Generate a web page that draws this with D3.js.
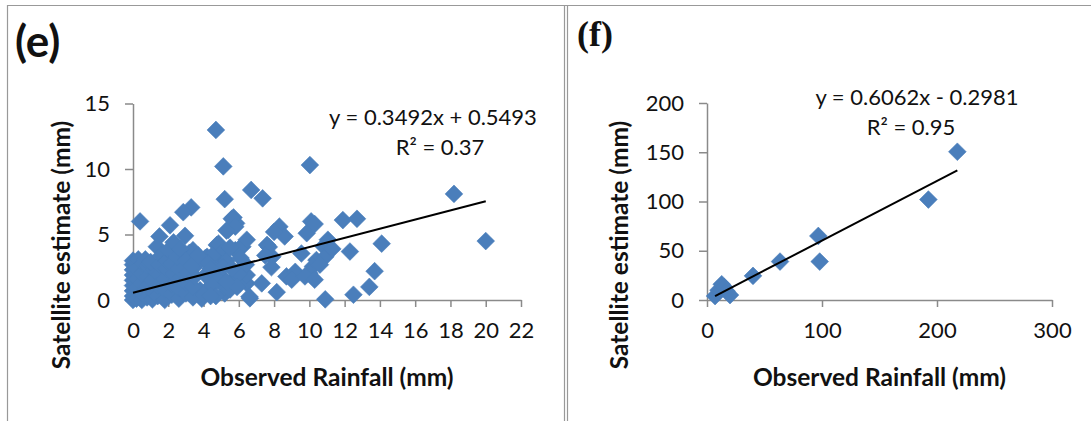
<!DOCTYPE html>
<html>
<head>
<meta charset="utf-8">
<script src="https://cdn.jsdelivr.net/npm/d3@7"></script>
<style>
  body { margin: 0; background: #fff; }
  text { font-family: Lato, "Open Sans", sans-serif; fill: #111; }
  .axis path, .axis line { stroke: #8a8a8a; stroke-width: 1.5; }
  .axis text { font-size: 22px; fill: #111; }
</style>
</head>
<body>
<div id="chart"></div>
<script>
// Panel (e): observed vs satellite rainfall (mm)
var obsE = [
  4.7, 5.12, 10.03, 0.4, 6.7, 7.35, 5.2, 3.3, 2.85, 5.7, 5.85, 2.1, 8.3, 8.6, 8.0, 2.95, 5.4, 1.5, 1.35, 4.75,
  6.2, 7.6, 7.9, 4.2, 3.6, 6.45, 7.3, 8.15, 6.63, 8.7, 18.2, 20.0, 14.1, 13.7, 13.4, 12.5, 10.9, 11.9, 12.7, 10.1,
  9.85, 11.05, 10.8, 12.3, 9.55, 10.4, 10.9, 10.2, 10.0, 9.2, 9.0, 9.75, 10.3, 6.45, 6.6, 7.7, 7.5, 6.2, 7.85, 5.6,
  5.8, 5.3, 4.85, 6.45, 3.4, 4.1, 4.85, 6.4, 3.8, 4.3, 5.2, 3.9, 5.2, 5.5, 5.7, 6.0, 4.5, 5.0, 5.3, 5.8,
  6.0, 5.5, 4.6, 11.3, 10.6, 10.3,
  4.5, 4.9, 5.1, 5.6, 5.9, 4.7, 5.3, 6.1, 4.5, 3.2, 2.9, 3.6, 4.2,
  0, 0, 0, 0, 0, 0, 0, 0, 0,
  0.2, 0.2, 0.25, 0.2, 0.3,
  0.5, 0.5, 0.5, 0.5, 0.55,
  0.8, 0.8, 0.85, 0.8, 0.7,
  1.1, 1.1, 1.1, 1.2, 1.0,
  1.4, 1.4, 1.5, 1.5, 1.6,
  1.8, 1.8, 1.8, 1.9, 1.9, 2.0,
  2.2, 2.2, 2.3, 2.2, 2.3,
  2.6, 2.6, 2.7, 2.6, 2.5, 2.7,
  3.0, 3.0, 3.1, 3.0,
  3.4, 3.4, 3.5, 3.3,
  4.0, 4.4, 4.1, 4.4, 3.7
];
var satE = [
  12.98, 10.2, 10.3, 6.0, 8.4, 7.76, 7.7, 7.07, 6.7, 6.3, 5.85, 5.7, 5.6, 4.85, 5.2, 4.9, 5.35, 4.85, 4.07, 4.2,
  4.07, 4.2, 3.3, 3.3, 2.7, 1.27, 1.27, 0.6, 0.13, 1.8, 8.1, 4.5, 4.3, 2.2, 1.0, 0.4, 0.05, 6.1, 6.2, 6.0,
  5.1, 4.6, 4.1, 3.7, 3.55, 3.05, 3.3, 2.55, 2.05, 2.15, 1.55, 1.8, 1.55, 1.9, 0.25, 4.05, 3.4, 2.5, 2.5, 6.2,
  5.6, 5.3, 4.3, 4.6, 3.8, 3.2, 2.8, 2.7, 0.75, 0.9, 0.5, 0.1, 1.0, 0.8, 1.6, 2.0, 2.5, 3.6, 3.0, 3.8,
  3.9, 4.0, 1.7, 3.9, 2.7, 5.8,
  1.2, 1.9, 2.5, 2.4, 1.0, 0.3, 1.4, 3.2, 3.4, 3.6, 1.0, 0.6, 2.9,
  0, 0.3, 0.7, 1.1, 1.5, 1.9, 2.3, 2.7, 3.0,
  0.1, 0.9, 1.6, 2.4, 3.1,
  0, 0.5, 1.3, 2.0, 2.8,
  0.2, 1.0, 1.8, 2.6, 3.1,
  0.05, 0.7, 1.5, 2.3, 2.9,
  0.3, 1.1, 1.9, 2.7, 3.4,
  0, 0.8, 1.6, 2.4, 3.0, 3.8,
  0.4, 1.2, 2.0, 2.8, 4.4,
  0.1, 0.9, 1.7, 2.4, 3.3, 3.9,
  0.5, 1.3, 2.1, 3.0,
  0.2, 1.0, 1.8, 2.6,
  0.4, 0.3, 1.9, 2.4, 3.4
];
var xTicksE = [0, 2, 4, 6, 8, 10, 12, 14, 16, 18, 20, 22];
var yTicksE = [0, 5, 10, 15];
var fitE = { slope: 0.3492, intercept: 0.5493 };

// Panel (f)
var obsF = [7, 10, 12.8, 15, 17, 20, 40, 63.5, 96.8, 98, 192.5, 217.7];
var satF = [4, 10, 16, 13, 9, 5, 24.5, 39, 65, 39, 102, 150.5];
var xTicksF = [0, 100, 200, 300];
var yTicksF = [0, 50, 100, 150, 200];
var fitF = { slope: 0.6062, intercept: -0.2981 };

var width = 1091, height = 421;
var blue = "#4a7ebb";

var svg = d3.select("#chart").append("svg")
  .attr("width", width)
  .attr("height", height);

// frame lines
var frame = svg.append("g").attr("stroke", "#999").attr("stroke-width", 1.2);
frame.append("line").attr("x1", 7).attr("x2", width).attr("y1", 5.5).attr("y2", 5.5);
frame.append("line").attr("x1", 7.5).attr("x2", 7.5).attr("y1", 5).attr("y2", height);
frame.append("line").attr("x1", 564.5).attr("x2", 564.5).attr("y1", 5).attr("y2", height);
frame.append("line").attr("x1", 567.5).attr("x2", 567.5).attr("y1", 5).attr("y2", height);

// diamond2 is already a square turned on its corner
var diamond = d3.symbol().type(d3.symbolDiamond2).size(200);

function drawPanel(cfg) {
  var x = d3.scaleLinear().domain(cfg.xDomain).range(cfg.xRange);
  var y = d3.scaleLinear().domain(cfg.yDomain).range(cfg.yRange);
  var g = svg.append("g");

  g.append("g")
    .attr("class", "axis")
    .attr("transform", "translate(0," + cfg.yRange[0] + ")")
    .call(d3.axisBottom(x).tickValues(cfg.xTicks).tickSize(7).tickSizeOuter(0).tickPadding(15).tickFormat(d3.format("d")));

  g.append("g")
    .attr("class", "axis")
    .attr("transform", "translate(" + cfg.xRange[0] + ",0)")
    .call(d3.axisLeft(y).tickValues(cfg.yTicks).tickSize(8).tickSizeOuter(0).tickPadding(15).tickFormat(d3.format("d")));

  g.selectAll(".domain").attr("stroke", "#8a8a8a");

  var pts = cfg.xs.map(function(v, i) { return [v, cfg.ys[i]]; });
  g.append("g").selectAll("path")
    .data(pts)
    .enter().append("path")
    .attr("transform", function(d) { return "translate(" + x(d[0]) + "," + y(d[1]) + ")"; })
    .attr("d", diamond)
    .attr("fill", blue)
    .attr("stroke", blue)
    .attr("stroke-width", 0.6);

  // linear trend line over the data range
  var x0 = d3.min(cfg.xs), x1 = d3.max(cfg.xs);
  g.append("line")
    .attr("x1", x(x0)).attr("y1", y(cfg.fit.slope * x0 + cfg.fit.intercept))
    .attr("x2", x(x1)).attr("y2", y(cfg.fit.slope * x1 + cfg.fit.intercept))
    .attr("stroke", "#000").attr("stroke-width", 2);

  g.append("text")
    .attr("x", cfg.eqX).attr("y", cfg.eqY)
    .attr("text-anchor", "middle").style("font-size", "22px")
    .text(cfg.eq);
  g.append("text")
    .attr("x", cfg.r2X).attr("y", cfg.eqY + 30)
    .attr("text-anchor", "middle").style("font-size", "22px")
    .text("R\u00b2 = " + cfg.r2);

  g.append("text")
    .attr("x", d3.mean(cfg.xRange)).attr("y", 386)
    .attr("text-anchor", "middle")
    .style("font-size", "24.5px").style("font-weight", "bold")
    .text("Observed Rainfall (mm)");

  g.append("text")
    .attr("transform", "translate(" + cfg.ytX + ",245) rotate(-90)")
    .attr("text-anchor", "middle")
    .style("font-size", "24.5px").style("font-weight", "bold")
    .text("Satellite estimate (mm)");
}

drawPanel({
  xs: obsE, ys: satE, xDomain: [0, 22], yDomain: [0, 15],
  xRange: [133, 521], yRange: [300, 103.5],
  xTicks: xTicksE, yTicks: yTicksE, fit: fitE,
  eq: "y = 0.3492x + 0.5493", eqX: 433, eqY: 125, r2X: 440, r2: "0.37", ytX: 70
});

drawPanel({
  xs: obsF, ys: satF, xDomain: [0, 300], yDomain: [0, 200],
  xRange: [707, 1052], yRange: [300, 103],
  xTicks: xTicksF, yTicks: yTicksF, fit: fitF,
  eq: "y = 0.6062x - 0.2981", eqX: 917, eqY: 105, r2X: 911, r2: "0.95", ytX: 628
});

svg.append("text").attr("x", 15).attr("y", 57)
  .style("font-size", "44px").style("font-weight", "bold")
  .text("(e)");
svg.append("text").attr("x", 577).attr("y", 46)
  .style("font-family", "'Liberation Serif', 'Times New Roman', serif")
  .style("font-size", "36px").style("font-weight", "bold")
  .text("(f)");
</script>
</body>
</html>
